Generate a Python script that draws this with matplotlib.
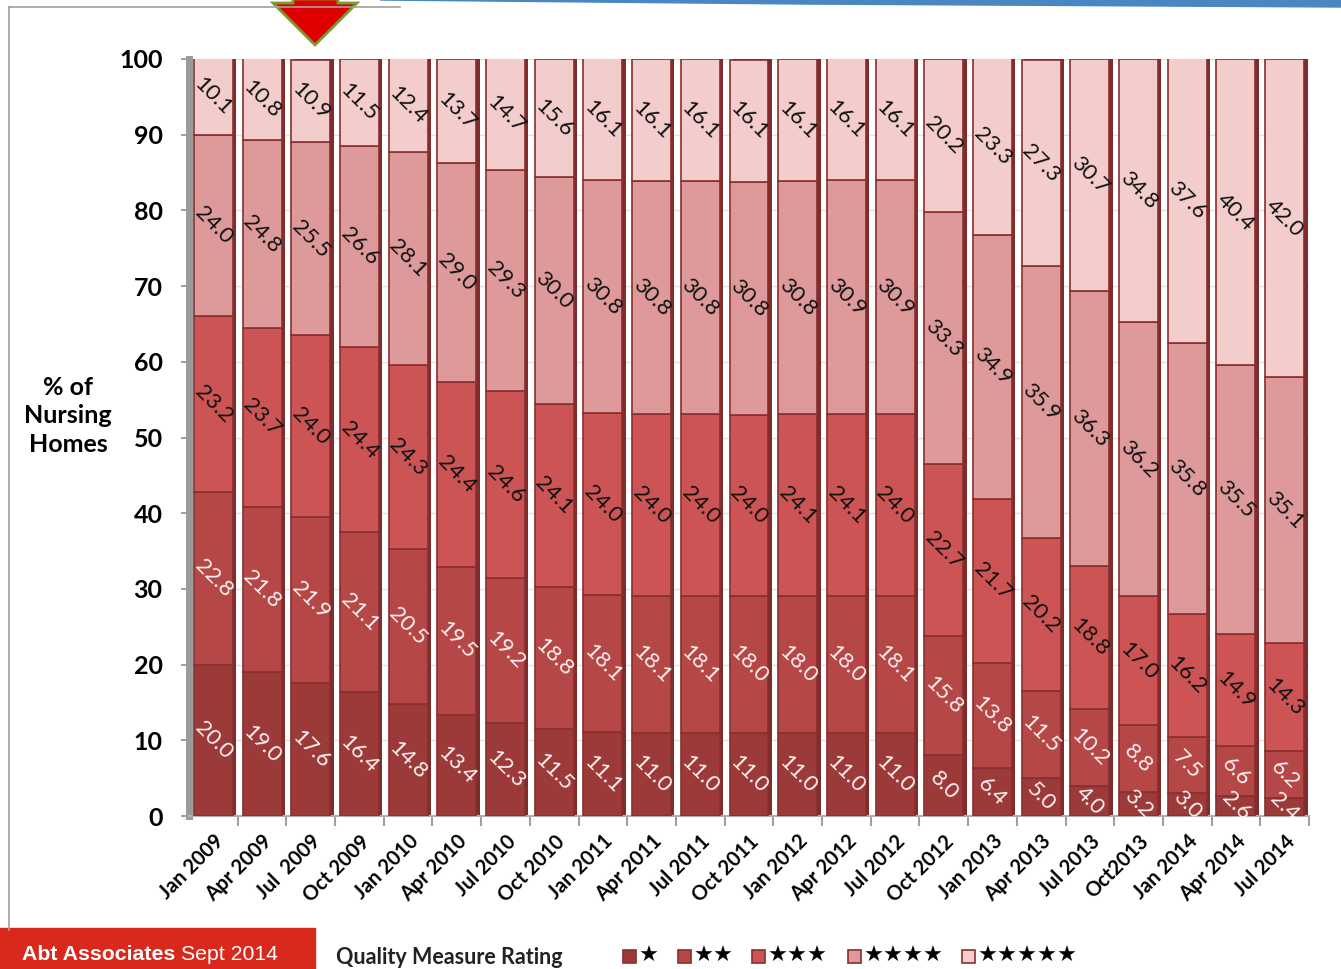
import matplotlib
matplotlib.use('Agg')
import matplotlib.pyplot as plt
from matplotlib.patches import Rectangle, Polygon
import numpy as np

periods = ['Jan 2009', 'Apr 2009', 'Jul  2009', 'Oct 2009', 'Jan 2010', 'Apr 2010',
           'Jul 2010', 'Oct 2010', 'Jan 2011', 'Apr 2011', 'Jul 2011', 'Oct 2011',
           'Jan 2012', 'Apr 2012', 'Jul 2012', 'Oct 2012', 'Jan 2013', 'Apr 2013',
           'Jul 2013', 'Oct2013', 'Jan 2014', 'Apr 2014', 'Jul 2014']

star1 = [20.0, 19.0, 17.6, 16.4, 14.8, 13.4, 12.3, 11.5, 11.1, 11.0, 11.0, 11.0,
         11.0, 11.0, 11.0, 8.0, 6.4, 5.0, 4.0, 3.2, 3.0, 2.6, 2.4]
star2 = [22.8, 21.8, 21.9, 21.1, 20.5, 19.5, 19.2, 18.8, 18.1, 18.1, 18.1, 18.0,
         18.0, 18.0, 18.1, 15.8, 13.8, 11.5, 10.2, 8.8, 7.5, 6.6, 6.2]
star3 = [23.2, 23.7, 24.0, 24.4, 24.3, 24.4, 24.6, 24.1, 24.0, 24.0, 24.0, 24.0,
         24.1, 24.1, 24.0, 22.7, 21.7, 20.2, 18.8, 17.0, 16.2, 14.9, 14.3]
star4 = [24.0, 24.8, 25.5, 26.6, 28.1, 29.0, 29.3, 30.0, 30.8, 30.8, 30.8, 30.8,
         30.8, 30.9, 30.9, 33.3, 34.9, 35.9, 36.3, 36.2, 35.8, 35.5, 35.1]
star5 = [10.1, 10.8, 10.9, 11.5, 12.4, 13.7, 14.7, 15.6, 16.1, 16.1, 16.1, 16.1,
         16.1, 16.1, 16.1, 20.2, 23.3, 27.3, 30.7, 34.8, 37.6, 40.4, 42.0]

series = [star1, star2, star3, star4, star5]
legend_labels = ['\u2605', '\u2605\u2605', '\u2605\u2605\u2605',
                 '\u2605\u2605\u2605\u2605', '\u2605\u2605\u2605\u2605\u2605']
colors = ['#9c3a3a', '#b54747', '#cd5454', '#de9a9a', '#f3cccc']
label_colors = ['#fdf0f0', '#fdf0f0', '#111111', '#111111', '#111111']

W, H = 1341, 969
fig = plt.figure(figsize=(W / 100, H / 100), dpi=100)


def fx(px):
    return px / W


def fy(py):
    return 1 - py / H


# frame, swoosh and arrow decoration
fig.add_artist(plt.Line2D([fx(9), fx(9)], [fy(7), fy(930)], color='#a0a0a0', lw=1.2))
fig.add_artist(plt.Line2D([fx(9), fx(400)], [fy(7), fy(7)], color='#a0a0a0', lw=1.2))
fig.add_artist(Polygon([(fx(380), fy(0)), (fx(800), fy(4)), (fx(1341), fy(7)),
                        (fx(1341), fy(0))], closed=True, color='#4a86c2',
                       transform=fig.transFigure))
fig.add_artist(Polygon([(fx(293), fy(-1)), (fx(338), fy(-1)), (fx(338), fy(3)),
                        (fx(357), fy(3)), (fx(315), fy(45)), (fx(273), fy(3)),
                        (fx(293), fy(3))], closed=True, facecolor='#e00000',
                       edgecolor='#7a9a2a', lw=2, transform=fig.transFigure))

ax = fig.add_axes([fx(189), fy(816), fx(1309) - fx(189), fy(59) - fy(816)])

x = np.arange(len(periods))
width = 0.8

# 3D side shadow
ax.bar(x + 0.07, 100, width, color='#7e2c2c', zorder=2)

bottom = np.zeros(len(periods))
for vals, c, lc in zip(series, colors, label_colors):
    vals = np.array(vals)
    ax.bar(x, vals, width, bottom=bottom, color=c, edgecolor='#8a2e2e', lw=1.2, zorder=3)
    for xi, b, v in zip(x, bottom, vals):
        ax.text(xi, b + v / 2, f'{v:.1f}', rotation=-45, ha='center', va='center',
                fontsize=16, color=lc, family='Lato', zorder=5, clip_on=False)
    bottom = bottom + vals

ax.set_xlim(-0.5, len(periods) - 0.5)
ax.set_ylim(0, 100)
ax.set_yticks(range(0, 101, 10))
ax.tick_params(axis='y', labelsize=18, length=6, color='#909090', width=1.2, pad=13)
for t in ax.get_yticklabels():
    t.set_fontweight('bold')
    t.set_family('Lato')

ax.set_xticks(x + 0.5, minor=True)
ax.set_xticks(x)
ax.tick_params(axis='x', which='minor', length=7, color='#a0a0a0', width=1.5)
ax.tick_params(axis='x', which='major', length=0, pad=11)
ax.set_xticklabels(periods, rotation=45, ha='right', rotation_mode='anchor',
                   fontsize=14.5, fontweight='bold', family='Lato')

ax.grid(axis='y', color='#e2e2e2', lw=1, zorder=0)
ax.set_axisbelow(True)
for s in ['top', 'right']:
    ax.spines[s].set_visible(False)
ax.spines['left'].set_color('#9a9a9a')
ax.spines['left'].set_linewidth(5)
ax.spines['bottom'].set_color('#b0b0b0')
ax.spines['bottom'].set_linewidth(1.5)

fig.text(fx(68), fy(416), '% of\nNursing\nHomes', ha='center', va='center',
         fontsize=18, fontweight='bold', family='Lato', linespacing=1.3)

# footer
fig.add_artist(Rectangle((0, 0), fx(315), fy(928), color='#d9291c',
                         transform=fig.transFigure))
t1 = fig.text(fx(22), fy(955), 'Abt Associates', ha='left', va='center', color='white',
              fontsize=15.3, fontweight='bold', family='Liberation Sans')
fig.canvas.draw()
bb = t1.get_window_extent()
fig.text(bb.x1 / W + fx(6), fy(955), 'Sept 2014', ha='left', va='center', color='white',
         fontsize=15.3, family='Liberation Sans')

fig.text(fx(336), fy(957), 'Quality Measure Rating', ha='left', va='center',
         fontsize=15.5, fontweight='bold', family='Lato', color='#222222')

item_x = [623, 678, 752, 848, 962]
for px, c, lab in zip(item_x, colors, legend_labels):
    fig.add_artist(Rectangle((fx(px), fy(963)), fx(13), fy(950) - fy(963),
                             facecolor=c, edgecolor='#8a2e2e', lw=1.2,
                             transform=fig.transFigure))
    fig.text(fx(px + 16), fy(956), lab, ha='left', va='center', fontsize=16,
             family='DejaVu Sans', color='black')

plt.savefig('out.png', dpi=100)
